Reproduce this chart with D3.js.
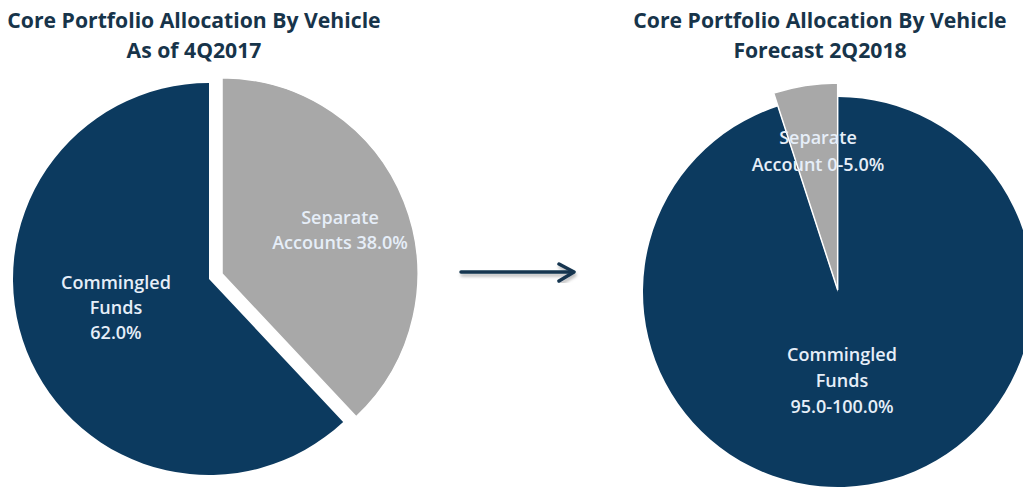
<!DOCTYPE html>
<html>
<head>
<meta charset="utf-8">
<script src="https://cdn.jsdelivr.net/npm/d3@7"></script>
<style>
    body { margin: 0; background: #fff; }
    .title { font-family: "Open Sans", sans-serif; font-weight: 700; font-size: 21.2px; fill: #17344a; }
    .slice-label { font-family: "Open Sans", sans-serif; font-weight: 600; font-size: 18px; fill: #e6eef8; }
</style>
</head>
<body>
<div id="chart"></div>
<script>
// data
let vehicles = ["Commingled Funds", "Separate Accounts"]

let titles4Q = ["Core Portfolio Allocation By Vehicle", "As of 4Q2017"]
let titles2Q = ["Core Portfolio Allocation By Vehicle", "Forecast 2Q2018"]

// 4Q2017 slices go clockwise from 12 o'clock: separate accounts first
let keys4Q = ["Separate Accounts", "Commingled Funds"]
let values4Q = [38.0, 62.0]
let labels4Q = [["Separate", "Accounts 38.0%"], ["Commingled", "Funds", "62.0%"]]

// 2Q2018 forecast: commingled first, separate account (upper bound of 0-5%) last
let keys2Q = ["Commingled Funds", "Separate Accounts"]
let values2Q = [95.0, 5.0]
let labels2Q = [["Commingled", "Funds", "95.0-100.0%"], ["Separate", "Account 0-5.0%"]]

let width = 1023
let height = 489

let colors = d3.scaleOrdinal()
    .domain(vehicles)
    .range(["#0c3a5f", "#a8a8a8"])

let svg = d3.select("#chart")
    .append("svg")
    .attr("width", width)
    .attr("height", height)

let pie = d3.pie()
    .sort(null)
    .value(d => d.value)

function drawPie(cfg) {

    let data = cfg.keys.map((k, i) => ({ key: k, value: cfg.values[i], label: cfg.labels[i] }))
    let arcs = pie(data)

    let g = svg.append("g")
        .attr("transform", "translate(" + cfg.cx + "," + cfg.cy + ")")

    g.selectAll("path")
        .data(arcs)
        .enter()
        .append("path")
        .attr("transform", d => {
            let off = d.data.key === cfg.explode ? cfg.offset : 0
            let mid = (d.startAngle + d.endAngle) / 2
            return "translate(" + (Math.sin(mid) * off) + "," + (-Math.cos(mid) * off) + ")"
        })
        .attr("d", d => {
            let r = d.data.key === cfg.explode ? cfg.rExplode : cfg.r
            return d3.arc().innerRadius(0).outerRadius(r)(d)
        })
        .style("fill", d => colors(d.data.key))
        .style("stroke", "#fff")
        .style("stroke-width", d => d.data.key === cfg.explode ? 1.5 : 0)

    // labels, positioned by hand like the original chart
    cfg.labelPos.forEach((p, i) => {
        let t = svg.append("text")
            .attr("class", "slice-label")
            .attr("text-anchor", "middle")
            .attr("x", p[0])
            .attr("y", p[1])
        arcs[i].data.label.forEach((line, j) => {
            t.append("tspan")
                .attr("x", p[0])
                .attr("dy", j === 0 ? 0 : p[2])
                .text(line)
        })
    })

    svg.selectAll(null)
        .data(cfg.titles)
        .enter()
        .append("text")
        .attr("class", "title")
        .attr("text-anchor", "middle")
        .attr("x", cfg.tx)
        .attr("y", (d, i) => 28 + i * 30)
        .text(d => d)
}

drawPie({
    keys: keys4Q, values: values4Q, labels: labels4Q, titles: titles4Q,
    cx: 209, cy: 279, r: 196, rExplode: 196,
    explode: "Separate Accounts", offset: 14,
    tx: 194,
    labelPos: [[340, 224, 25], [116, 289, 25]]
})

drawPie({
    keys: keys2Q, values: values2Q, labels: labels2Q, titles: titles2Q,
    cx: 838, cy: 292, r: 195, rExplode: 207,
    explode: "Separate Accounts", offset: 2,
    tx: 820,
    labelPos: [[842, 361, 26], [818, 144, 27]]
})

// arrow between the two pies
let defs = svg.append("defs")
defs.append("filter")
    .attr("id", "shadow")
    .append("feDropShadow")
    .attr("dx", 1).attr("dy", 3).attr("stdDeviation", 1.5)
    .attr("flood-color", "#000").attr("flood-opacity", 0.25)

let arrow = svg.append("g")
    .attr("filter", "url(#shadow)")
    .style("stroke", "#163550")
    .style("stroke-width", 3.5)
    .style("fill", "none")
    .style("stroke-linecap", "round")
    .style("stroke-linejoin", "round")

arrow.append("line")
    .attr("x1", 461).attr("y1", 272)
    .attr("x2", 573).attr("y2", 272)

arrow.append("polyline")
    .attr("points", "559,264 574,272 559,281")
</script>
</body>
</html>
